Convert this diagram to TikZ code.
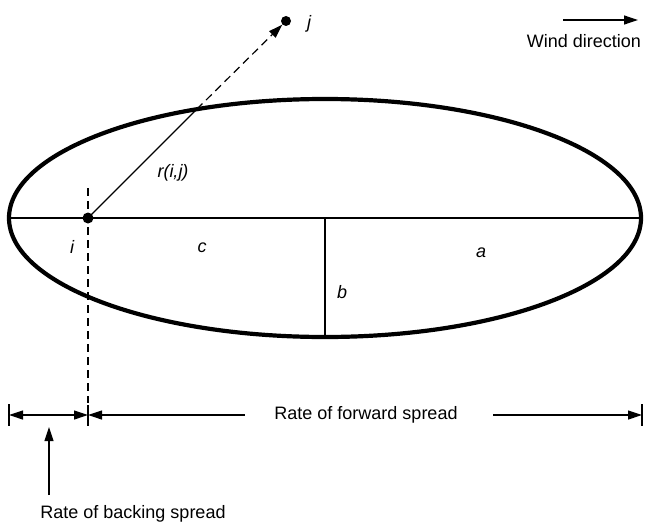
\documentclass[tikz,border=0pt]{standalone}
\usepackage{fontspec}
\setmainfont{Liberation Sans}
\usetikzlibrary{arrows.meta}
\begin{document}
\begin{tikzpicture}[x=1pt,y=-1pt,
  thinline/.style={line width=1.2pt},
  tipend/.style={-{Triangle[length=14pt,width=9pt]}},
  tipstart/.style={{Triangle[length=14pt,width=9pt]}-},
  tipboth/.style={{Triangle[length=14pt,width=9pt]}-{Triangle[length=14pt,width=9pt]}},
  lbl/.style={font=\fontsize{18}{20}\selectfont\itshape, inner sep=0pt},
  txt/.style={font=\fontsize{18}{20}\selectfont, inner sep=0pt},
  dot/.style={circle,fill=black,inner sep=0pt,minimum size=11pt}]
\useasboundingbox (0,0) rectangle (647,527);
% ellipse
\draw[line width=4.2pt] (325,218) ellipse [x radius=316pt, y radius=119pt];
\coordinate (L) at (9,218);
\coordinate (R) at (641,218);
\coordinate (C) at (325,218);
\coordinate (B) at (325,337);
\draw[thinline] (L) -- (R);
\draw[thinline] (C) -- (B);
% points
\node[dot] (i) at (88,218) {};
\node[dot,minimum size=10pt] (j) at (286,21) {};
\coordinate (X) at (196.8,109.2);
\draw[thinline] (i.center) -- (X);
\draw[thinline, dash pattern=on 8pt off 5pt, tipend] (X) -- (j);
% dashed vertical
\coordinate (dt) at (88,188);
\coordinate (db) at (88,403);
\draw[thinline, dash pattern=on 8pt off 5pt] (dt) -- (db);
% labels
\node[lbl] (lj) at (309,24) {j};
\node[lbl] (lr) at (173,173) {r(i,j)};
\node[lbl] (li) at (72,247) {i};
\node[lbl] (lc) at (202,248) {c};
\node[lbl] (la) at (481,253) {a};
\node[lbl] (lb) at (342,292) {b};
% dimension line
\coordinate (t1a) at (9,404);  \coordinate (t1b) at (9,426);
\coordinate (t2a) at (88,405); \coordinate (t2b) at (88,426);
\coordinate (t3a) at (642,404); \coordinate (t3b) at (642,426);
\draw[thinline] (t1a) -- (t1b);
\draw[thinline] (t2a) -- (t2b);
\draw[thinline] (t3a) -- (t3b);
\coordinate (d1) at (9,415);
\coordinate (d2) at (88,415);
\coordinate (d3) at (245,415);
\coordinate (d4) at (493,415);
\coordinate (d5) at (642,415);
\draw[thinline, tipboth] (d1) -- (d2);
\draw[thinline, tipstart] (d2) -- (d3);
\draw[thinline, tipend] (d4) -- (d5);
\node[txt] (fw) at (366,415) {Rate of forward spread};
% backing spread
\node[txt] (back) at (133,514) {Rate of backing spread};
\coordinate (ub) at (49,495);
\coordinate (ut) at (49,427);
\draw[thinline, tipend] (ub) -- (ut);
% wind
\node[txt,anchor=east] (wind) at (641,41) {Wind direction};
\coordinate (w1) at (563,20);
\coordinate (w2) at (638,20);
\draw[thinline, tipend] (w1) -- (w2);
\end{tikzpicture}
\end{document}
